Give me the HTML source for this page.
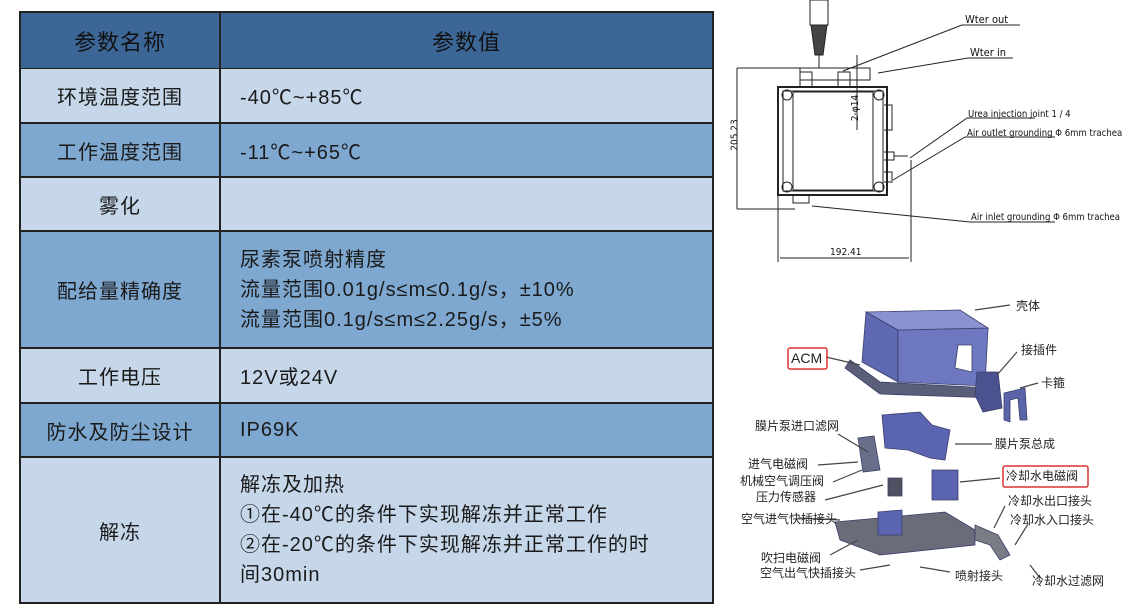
<!DOCTYPE html><html><head><meta charset="utf-8"><style>
body{margin:0;width:1130px;height:609px;background:#fff;position:relative;overflow:hidden;font-family:"Liberation Sans","Noto Sans CJK SC",sans-serif}
.c{position:absolute;box-sizing:border-box;color:#1a1a1a;font-size:20px;display:flex;align-items:center;letter-spacing:1px}
.n{justify-content:center}
.v{padding-left:19px}
.L{background:#c6d7e9}.D{background:#7ea8d0}.H{background:#3c6695;color:#111;font-size:22px}
.t{position:absolute;font-size:12px;color:#222;white-space:nowrap;line-height:1}
.e{position:absolute;font-size:9.5px;color:#111;white-space:nowrap;font-family:"DejaVu Sans Condensed","Liberation Sans",sans-serif;line-height:1}
</style></head><body>
<div style="position:absolute;left:19px;top:11px;width:695px;height:593px;background:#222"></div>
<div class="c n H" style="left:21px;top:13px;width:198px;height:55px">参数名称</div>
<div class="c n H" style="left:221px;top:13px;width:491px;height:55px">参数值</div>
<div class="c n L" style="left:21px;top:69px;width:198px;height:53px">环境温度范围</div>
<div class="c v L" style="left:221px;top:69px;width:491px;height:53px">-40℃~+85℃</div>
<div class="c n D" style="left:21px;top:124px;width:198px;height:52px">工作温度范围</div>
<div class="c v D" style="left:221px;top:124px;width:491px;height:52px">-11℃~+65℃</div>
<div class="c n L" style="left:21px;top:178px;width:198px;height:52px">雾化</div>
<div class="c v L" style="left:221px;top:178px;width:491px;height:52px"></div>
<div class="c n D" style="left:21px;top:232px;width:198px;height:115px">配给量精确度</div>
<div class="c v D" style="left:221px;top:232px;width:491px;height:115px;line-height:30px;align-items:center"><div>尿素泵喷射精度<br>流量范围0.01g/s≤m≤0.1g/s，±10%<br>流量范围0.1g/s≤m≤2.25g/s，±5%</div></div>
<div class="c n L" style="left:21px;top:349px;width:198px;height:53px">工作电压</div>
<div class="c v L" style="left:221px;top:349px;width:491px;height:53px">12V或24V</div>
<div class="c n D" style="left:21px;top:404px;width:198px;height:52px">防水及防尘设计</div>
<div class="c v D" style="left:221px;top:404px;width:491px;height:52px">IP69K</div>
<div class="c n L" style="left:21px;top:458px;width:198px;height:144px">解冻</div>
<div class="c v L" style="left:221px;top:458px;width:491px;height:144px;line-height:30px"><div>解冻及加热<br>①在-40℃的条件下实现解冻并正常工作<br>②在-20℃的条件下实现解冻并正常工作的时<br>间30min</div></div>

<svg style="position:absolute;left:0;top:0" width="1130" height="609" stroke="#222" fill="none" stroke-width="1">
<rect x="778" y="87" width="109" height="108" stroke-width="2"/>
<rect x="793" y="92" width="80" height="98"/>
<rect x="783" y="91" width="100" height="100"/>
<circle cx="787" cy="95" r="5"/><circle cx="879" cy="95" r="5"/><circle cx="787" cy="187" r="5"/><circle cx="879" cy="187" r="5"/>
<rect x="800" y="68" width="70" height="12"/><rect x="800" y="72" width="12" height="15"/><rect x="838" y="72" width="12" height="15"/>
<rect x="810" y="0" width="18" height="25"/><path d="M811 25 L827 25 L823 55 L815 55 Z" fill="#444"/><line x1="819" y1="55" x2="819" y2="68"/>
<path d="M884 105 h8 v25 h-8"/><path d="M884 152 h10 v8 h-10 M894 156 h14"/><path d="M884 172 h8 v10 h-8"/>
<path d="M793 195 v8 h16 v-8"/>
<line x1="737" y1="68" x2="800" y2="68"/><line x1="737" y1="209" x2="795" y2="209"/>
<line x1="737" y1="68" x2="737" y2="209"/>
<line x1="778" y1="195" x2="778" y2="262"/><line x1="911" y1="160" x2="911" y2="262"/>
<line x1="780" y1="258" x2="909" y2="258"/>
<line x1="857" y1="55" x2="857" y2="130"/>
<path d="M843 71 L962 25 H1020"/><path d="M878 73 L968 58 H1013"/>
<path d="M910 158 L967 118 H1035"/><path d="M893 180 L965 137 H1055"/>
<path d="M812 206 L970 222 H1055"/>
<g stroke="#3a3f6a" stroke-width="0.8">
<path d="M850 360 L880 382 L990 388 L995 398 L880 394 L845 368 Z" fill="#5a5e78"/>
<path d="M866 312 L898 330 L898 382 L862 362 Z" fill="#5f68b2"/>
<path d="M898 330 L988 328 L985 386 L898 382 Z" fill="#6e78c0"/>
<path d="M866 312 L960 310 L988 328 L898 330 Z" fill="#8a92d2"/>
<path d="M958 345 L972 345 L972 372 L955 368 Z" fill="#fff"/>
<path d="M977 372 L998 372 L1002 408 L983 412 L975 395 Z" fill="#4a5290"/>
<path d="M1004 393 L1025 388 L1027 420 L1020 420 L1018 398 L1010 400 L1010 422 L1004 420 Z" fill="#5a64a8"/>
<path d="M882 415 L920 412 L932 425 L950 430 L945 460 L930 458 L908 450 L885 448 Z" fill="#5a64b0"/>
<path d="M858 438 L874 436 L880 470 L863 472 Z" fill="#6a6e8a"/>
<path d="M932 470 L958 470 L958 500 L932 500 Z" fill="#5a64b0"/>
<path d="M888 478 L902 478 L902 496 L888 496 Z" fill="#505060"/>
<path d="M835 522 L945 512 L975 530 L975 545 L880 555 L840 540 Z" fill="#6a6c7a"/>
<path d="M878 512 L902 510 L902 535 L878 535 Z" fill="#5a64b0"/>
<path d="M975 525 L998 535 L1010 555 L1000 560 L990 545 L975 540 Z" fill="#7a7c86"/>
</g>
<g stroke="#444" stroke-width="1.2">
<path d="M975 310 L1010 305"/><path d="M860 365 L826 357"/><path d="M997 375 L1017 352"/><path d="M1020 388 L1038 383"/>
<path d="M838 434 L868 452"/><path d="M955 444 L992 444"/><path d="M858 462 L818 465"/><path d="M862 470 L833 482"/>
<path d="M883 485 L825 500"/><path d="M960 482 L1000 478"/><path d="M994 528 L1005 506"/><path d="M1015 545 L1028 524"/>
<path d="M840 520 L800 518"/><path d="M858 540 L830 555"/><path d="M890 565 L860 570"/><path d="M920 567 L950 572"/><path d="M1030 565 L1040 578"/>
</g>
<rect x="788" y="348" width="39" height="21" stroke="#d33" stroke-width="1.5" rx="2"/>
<rect x="1003" y="466" width="85" height="21" stroke="#d33" stroke-width="1.5" rx="2"/>
</svg>
<div class="e" style="left:965px;top:14px;font-size:11px">Wter out</div>
<div class="e" style="left:970px;top:47px;font-size:11px">Wter in</div>
<div class="e" style="left:968px;top:110px">Urea injection joint 1 / 4</div>
<div class="e" style="left:967px;top:129px">Air outlet grounding Φ 6mm trachea</div>
<div class="e" style="left:971px;top:213px">Air inlet grounding Φ 6mm trachea</div>
<div class="e" style="left:720px;top:130px;transform:rotate(-90deg);font-size:10px">205.23</div>
<div class="e" style="left:830px;top:248px;font-size:10px">192.41</div>
<div class="e" style="left:843px;top:103px;transform:rotate(-90deg);font-size:10px">2-φ14</div>
<div class="t" style="left:1016px;top:300px">壳体</div>
<div class="t" style="left:791px;top:351px;font-size:14px">ACM</div>
<div class="t" style="left:1021px;top:344px">接插件</div>
<div class="t" style="left:1041px;top:377px">卡箍</div>
<div class="t" style="left:755px;top:420px">膜片泵进口滤网</div>
<div class="t" style="left:995px;top:438px">膜片泵总成</div>
<div class="t" style="left:748px;top:458px">进气电磁阀</div>
<div class="t" style="left:740px;top:475px">机械空气调压阀</div>
<div class="t" style="left:756px;top:491px">压力传感器</div>
<div class="t" style="left:1006px;top:470px">冷却水电磁阀</div>
<div class="t" style="left:1008px;top:495px">冷却水出口接头</div>
<div class="t" style="left:1010px;top:514px">冷却水入口接头</div>
<div class="t" style="left:741px;top:513px">空气进气快插接头</div>
<div class="t" style="left:761px;top:552px">吹扫电磁阀</div>
<div class="t" style="left:760px;top:567px">空气出气快插接头</div>
<div class="t" style="left:955px;top:570px">喷射接头</div>
<div class="t" style="left:1032px;top:575px">冷却水过滤网</div>
</body></html>
